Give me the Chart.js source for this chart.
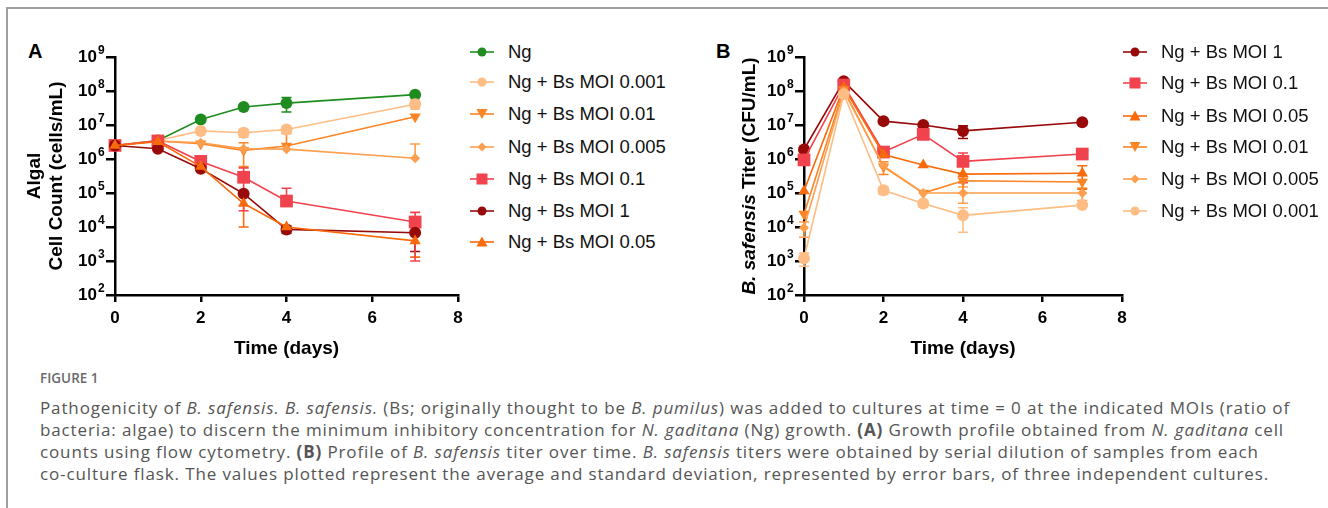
<!DOCTYPE html>
<html>
<head>
<meta charset="utf-8">
<script src="https://cdn.jsdelivr.net/npm/chart.js@4.4.1/dist/chart.umd.min.js"></script>
<style>
  body { margin: 0; width: 1328px; height: 508px; background: #fff; position: relative; overflow: hidden;
         font-family: "Liberation Sans", Arial, sans-serif; }
  #frame { position: absolute; left: 6px; top: 7px; width: 1340px; height: 520px;
           border-left: 2px solid #a0a0a0; border-top: 2px solid #a0a0a0; }
  .panel { position: absolute; font-weight: bold; font-size: 20px; color: #000; }
  canvas { position: absolute; }
  .legend { position: absolute; font-size: 18.5px; color: #111; }
  .legend .row { position: absolute; left: 0; display: flex; align-items: center; white-space: nowrap; height: 24px; }
  .legend svg { margin-right: 14px; }
  #figlabel { position: absolute; left: 40px; top: 369px; font-family: "Open Sans", sans-serif;
              font-size: 13.5px; font-weight: 600; color: #6a6a6a; }
  #caption { position: absolute; left: 40px; top: 397px; font-family: "Open Sans", sans-serif;
             font-size: 17px; line-height: 22px; color: #555; white-space: nowrap; }
</style>
</head>
<body>
<div id="frame"></div>
<div class="panel" style="left:28px;top:40px">A</div>
<div class="panel" style="left:716px;top:40px">B</div>
<div style="position:absolute;left:20px;top:30px;width:450px;height:335px"><canvas id="chartA"></canvas></div>
<div style="position:absolute;left:700px;top:30px;width:435px;height:335px"><canvas id="chartB"></canvas></div>
<div class="legend" id="legendA" style="left:470px;top:0px"></div>
<div class="legend" id="legendB" style="left:1123px;top:0px"></div>
<div id="figlabel">FIGURE 1</div>
<div id="caption">
<span id="capLine1">Pathogenicity of <i>B. safensis. B. safensis.</i> (Bs; originally thought to be <i>B. pumilus</i>) was added to cultures at time = 0 at the indicated MOIs (ratio of</span><br>
bacteria: algae) to discern the minimum inhibitory concentration for <i>N. gaditana</i> (Ng) growth. <b>(A)</b> Growth profile obtained from <i>N. gaditana</i> cell<br>
counts using flow cytometry. <b>(B)</b> Profile of <i>B. safensis</i> titer over time. <i>B. safensis</i> titers were obtained by serial dilution of samples from each<br>
co-culture flask. The values plotted represent the average and standard deviation, represented by error bars, of three independent cultures.
</div>
<script>
// sampling days
const days = [0, 1, 2, 3, 4, 7];
const yTicks = [1e2, 1e3, 1e4, 1e5, 1e6, 1e7, 1e8, 1e9];
const yTickExp = ['2', '3', '4', '5', '6', '7', '8', '9'];

// Panel A: algal cell count (cells/mL), mean and SD
const aNg      = [2.5e6, 3.5e6, 1.45e7, 3.4e7, 4.4e7, 7.8e7];
const aNgSd    = [0, 0, 0, 0, 2e7, 0];
const aM0001   = [2.5e6, 3.5e6, 6.7e6, 5.9e6, 7.4e6, 4.1e7];
const aM0001Sd = [0, 0, 0, 1.5e6, 0, 1.2e7];
const aM001    = [2.5e6, 3.4e6, 2.8e6, 1.8e6, 2.4e6, 1.75e7];
const aM001Sd  = [0, 0, 0, 1.2e6, 3.2e6, 0];
const aM0005   = [2.5e6, 3.4e6, 3.0e6, 2.0e6, 1.95e6, 1.05e6];
const aM0005Sd = [0, 0, 0, 0, 0, 1.7e6];
const aM01     = [2.5e6, 3.4e6, 8.5e5, 2.9e5, 5.8e4, 1.4e4];
const aM01Sd   = [0, 0, 0, 2.6e5, 8e4, 1.3e4];
const aM1      = [2.5e6, 2.0e6, 5.2e5, 9.5e4, 8.5e3, 6.8e3];
const aM1Sd    = [0, 0, 0, 0, 2e3, 4.9e3];
const aM005    = [2.5e6, 3.2e6, 6.0e5, 4.9e4, 1.0e4, 3.9e3];
const aM005Sd  = [0, 0, 0, 3.9e4, 0, 2.6e3];

// Panel B: B. safensis titer (CFU/mL), mean and SD
const bM1      = [1.9e6, 1.95e8, 1.3e7, 1.0e7, 6.7e6, 1.2e7];
const bM1Sd    = [0, 0, 0, 0, 2.7e6, 0];
const bM01     = [9.4e5, 1.5e8, 1.6e6, 5.3e6, 8.5e5, 1.4e6];
const bM01Sd   = [0, 0, 0, 0, 6.5e5, 0];
const bM005    = [1.15e5, 1.3e8, 1.35e6, 6.7e5, 3.6e5, 3.8e5];
const bM005Sd  = [0, 0, 0, 0, 0, 2.5e5];
const bM001    = [2.4e4, 1.1e8, 5.9e5, 1.0e5, 2.3e5, 2.1e5];
const bM001Sd  = [0, 0, 2.4e5, 0, 1.3e5, 0];
const bM0005   = [9.5e3, 1.0e8, 6.3e5, 1.0e5, 1.0e5, 1.0e5];
const bM0005Sd = [4.5e3, 0, 0, 0, 5e4, 4e4];
const bM0001   = [1.2e3, 8.0e7, 1.2e5, 4.9e4, 2.2e4, 4.4e4];
const bM0001Sd = [5e2, 0, 3e4, 1e4, 1.5e4, 0];

const C = {
  ng: '#1f8c1f', m0001: '#fdbd84', m001: '#fb8424', m0005: '#fd9f4e',
  m01: '#f1434d', m1: '#980a0a', m005: '#f86a0a'
};

const FONT = '"Liberation Sans", Arial, sans-serif';
const Y_TICK_LEN = 9, Y_TICK_PAD = 9;

function ds(label, data, sd, color, style, radius, rotation) {
  return {
    label, data: days.map((d, i) => ({ x: d, y: data[i] })), sd,
    borderColor: color, backgroundColor: color, borderWidth: 1.6,
    pointStyle: style, pointRadius: radius, pointHoverRadius: radius,
    pointRotation: rotation || 0, pointBorderWidth: 0, clip: false, tension: 0
  };
}

// error bars drawn through the chart scales
const errorBars = {
  id: 'errorBars',
  beforeDatasetsDraw(chart) {
    const { ctx, scales: { x, y } } = chart;
    ctx.save();
    chart.data.datasets.forEach(d => {
      if (!d.sd) return;
      ctx.strokeStyle = d.borderColor;
      ctx.lineWidth = 1.6;
      d.data.forEach((p, i) => {
        const s = d.sd[i];
        if (!s) return;
        const px = x.getPixelForValue(p.x);
        const yHi = y.getPixelForValue(p.y + s);
        const yLo = p.y - s > 0 ? y.getPixelForValue(p.y - s) : y.getPixelForValue(p.y);
        ctx.beginPath();
        ctx.moveTo(px, yHi); ctx.lineTo(px, yLo);
        ctx.moveTo(px - 5, yHi); ctx.lineTo(px + 5, yHi);
        if (p.y - s > 0) { ctx.moveTo(px - 5, yLo); ctx.lineTo(px + 5, yLo); }
        ctx.stroke();
      });
    });
    ctx.restore();
  }
};

// superscript exponents next to the "10" tick labels
const exponents = {
  id: 'exponents',
  afterDraw(chart) {
    const { ctx, scales: { y } } = chart;
    ctx.save();
    ctx.fillStyle = '#000';
    ctx.font = 'bold 12px ' + FONT;
    ctx.textAlign = 'left';
    ctx.textBaseline = 'middle';
    const x0 = y.right - Y_TICK_LEN - Y_TICK_PAD + 1;
    yTicks.forEach((v, i) => ctx.fillText(yTickExp[i], x0, y.getPixelForValue(v) - 6));
    ctx.restore();
  }
};

// rotated y title with italic genus name
const mixedYTitle = {
  id: 'mixedYTitle',
  afterDraw(chart, args, opts) {
    if (!opts.parts) return;
    const { ctx, chartArea } = chart;
    ctx.save();
    ctx.translate(opts.x, (chartArea.top + chartArea.bottom) / 2);
    ctx.rotate(-Math.PI / 2);
    ctx.fillStyle = '#000';
    ctx.textBaseline = 'middle';
    let total = 0;
    opts.parts.forEach(p => { ctx.font = p.font; total += ctx.measureText(p.text).width; });
    let cx = -total / 2;
    opts.parts.forEach(p => {
      ctx.font = p.font; ctx.textAlign = 'left';
      ctx.fillText(p.text, cx, 0);
      cx += ctx.measureText(p.text).width;
    });
    ctx.restore();
  }
};

function makeOptions(yWidth, rightPad, yTitle, mixed) {
  return {
    responsive: true, maintainAspectRatio: false, animation: false,
    layout: { padding: { top: 27, right: rightPad, left: 0, bottom: 0 } },
    plugins: { legend: { display: false }, tooltip: { enabled: false }, mixedYTitle: mixed },
    scales: {
      x: {
        type: 'linear', min: 0, max: 8,
        ticks: { stepSize: 2, color: '#000', padding: 6, font: { family: FONT, size: 17, weight: 'bold' } },
        grid: { drawOnChartArea: false, drawTicks: true, tickLength: 7, color: '#000', lineWidth: 2.5 },
        border: { color: '#000', width: 2.5 },
        title: { display: true, text: 'Time (days)', color: '#000', padding: { top: 0, bottom: 5 },
                 font: { family: FONT, size: 19, weight: 'bold', lineHeight: 22 / 19 } },
        afterFit(s) { s.height = 70; }
      },
      y: {
        type: 'logarithmic', min: 1e2, max: 1e9,
        afterBuildTicks(s) { s.ticks = yTicks.map(v => ({ value: v, major: true })); },
        ticks: {
          color: '#000', padding: Y_TICK_PAD, autoSkip: false,
          font: { family: FONT, size: 17, weight: 'bold' },
          callback(v) { return yTicks.indexOf(v) >= 0 ? '10' : ''; }
        },
        grid: { drawOnChartArea: false, drawTicks: true, tickLength: Y_TICK_LEN, color: '#000', lineWidth: 2.5 },
        border: { color: '#000', width: 2.5 },
        title: yTitle,
        afterFit(s) { s.width = yWidth; }
      }
    }
  };
}

const seriesA = [
  ds('Ng', aNg, aNgSd, C.ng, 'circle', 6),
  ds('Ng + Bs MOI 0.001', aM0001, aM0001Sd, C.m0001, 'circle', 6),
  ds('Ng + Bs MOI 0.01', aM001, aM001Sd, C.m001, 'triangle', 6.5, 180),
  ds('Ng + Bs MOI 0.005', aM0005, aM0005Sd, C.m0005, 'rectRot', 5),
  ds('Ng + Bs MOI 0.1', aM01, aM01Sd, C.m01, 'rect', 9),
  ds('Ng + Bs MOI 1', aM1, aM1Sd, C.m1, 'circle', 6),
  ds('Ng + Bs MOI 0.05', aM005, aM005Sd, C.m005, 'triangle', 6.5)
];

const seriesB = [
  ds('Ng + Bs MOI 1', bM1, bM1Sd, C.m1, 'circle', 6),
  ds('Ng + Bs MOI 0.1', bM01, bM01Sd, C.m01, 'rect', 9),
  ds('Ng + Bs MOI 0.05', bM005, bM005Sd, C.m005, 'triangle', 6.5),
  ds('Ng + Bs MOI 0.01', bM001, bM001Sd, C.m001, 'triangle', 6.5, 180),
  ds('Ng + Bs MOI 0.005', bM0005, bM0005Sd, C.m0005, 'rectRot', 5),
  ds('Ng + Bs MOI 0.001', bM0001, bM0001Sd, C.m0001, 'circle', 6)
];

new Chart(document.getElementById('chartA'), {
  type: 'line',
  data: { datasets: seriesA.slice().reverse() },
  options: makeOptions(95, 12, {
    display: true, text: ['Algal', 'Cell Count (cells/mL)'], color: '#000',
    padding: { top: 4, bottom: 0 }, font: { family: FONT, size: 19, weight: 'bold', lineHeight: 22 / 19 }
  }, {}),
  plugins: [errorBars, exponents, mixedYTitle]
});

new Chart(document.getElementById('chartB'), {
  type: 'line',
  data: { datasets: seriesB.slice().reverse() },
  options: makeOptions(104, 13, { display: false }, {
    x: 50,
    parts: [
      { text: 'B. safensis', font: 'italic bold 19px ' + FONT },
      { text: ' Titer (CFU/mL)', font: 'bold 19px ' + FONT }
    ]
  }),
  plugins: [errorBars, exponents, mixedYTitle]
});

// legends with line + marker icons
function markerSvg(d) {
  const c = d.borderColor;
  let m = '';
  if (d.pointStyle === 'circle') m = `<circle cx="12" cy="8" r="4.5" fill="${c}"/>`;
  else if (d.pointStyle === 'rect') m = `<rect x="6.5" y="2.5" width="11" height="11" fill="${c}"/>`;
  else if (d.pointStyle === 'rectRot') m = `<polygon points="12,3.5 16.5,8 12,12.5 7.5,8" fill="${c}"/>`;
  else if (d.pointRotation === 180) m = `<polygon points="6.5,3 17.5,3 12,13" fill="${c}"/>`;
  else m = `<polygon points="12,2.5 17.5,12.5 6.5,12.5" fill="${c}"/>`;
  return `<svg width="24" height="16"><line x1="0" y1="8" x2="24" y2="8" stroke="${c}" stroke-width="1.6"/>${m}</svg>`;
}
function buildLegend(id, series, rows) {
  const el = document.getElementById(id);
  series.forEach((d, i) => {
    const r = document.createElement('div');
    r.className = 'row';
    r.style.top = (rows[i] - 12) + 'px';
    r.innerHTML = markerSvg(d) + '<span>' + d.label + '</span>';
    el.appendChild(r);
  });
}
buildLegend('legendA', seriesA, [52, 82, 114, 147, 179, 211, 242]);
buildLegend('legendB', seriesB, [52, 83, 116, 147, 179, 211]);

// fit the caption so that its first line spans the same width as the figure's
function fitCaption() {
  const cap = document.getElementById('caption');
  const w = document.getElementById('capLine1').getBoundingClientRect().width;
  const size = parseFloat(getComputedStyle(cap).fontSize);
  cap.style.letterSpacing = ((1250 - w) / document.getElementById('capLine1').textContent.length) + 'px';
}
fitCaption();
</script>
</body>
</html>
